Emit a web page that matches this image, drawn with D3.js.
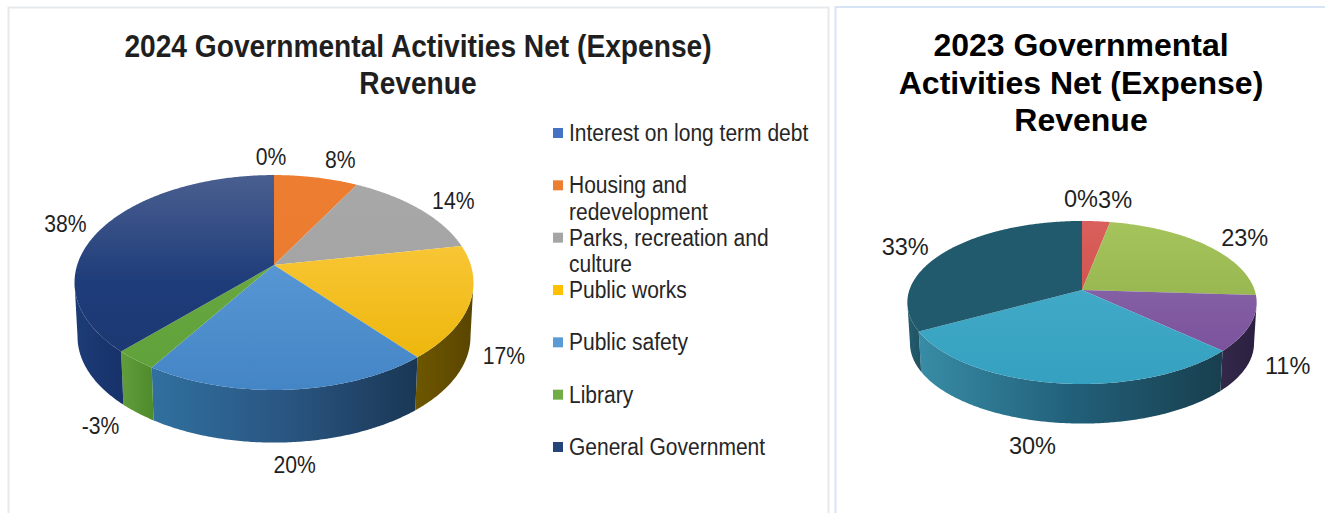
<!DOCTYPE html>
<html>
<head>
<meta charset="utf-8">
<script src="https://cdn.jsdelivr.net/npm/d3@7/dist/d3.min.js"></script>
<style>
  html, body { margin: 0; padding: 0; background: #fff; }
  svg { display: block; font-family: "Liberation Sans", Arial, sans-serif; }
</style>
</head>
<body>
<svg id="chart" width="1325" height="513"></svg>
<script>
// Shares of governmental activities net (expense) revenue, in percent.
const categories2024 = ["Interest on long term debt", "Housing and redevelopment", "Parks, recreation and culture", "Public works", "Public safety", "Library", "General Government"];
const values2024 = [0, 8, 14, 17, 20, -3, 38];
const categories2023 = ["Interest on long term debt", "Housing and redevelopment", "Parks, recreation and culture", "Public works", "Public safety", "General Government"];
const values2023 = [0, 3, 23, 11, 30, 33];

const title2024 = ["2024 Governmental Activities Net (Expense)", "Revenue"];
const title2023 = ["2023 Governmental", "Activities Net (Expense)", "Revenue"];
const legendLines = [["Interest on long term debt"], ["Housing and", "redevelopment"], ["Parks, recreation and", "culture"], ["Public works"], ["Public safety"], ["Library"], ["General Government"]];

// Top-face colour ramps (top of the disc to bottom) and wall ramps (left to right).
const swatches2024 = ["#4472c4", "#ed7d31", "#a5a5a5", "#ffc000", "#5b9bd5", "#70ad47", "#264478"];
const faces2024 = [["#4472c4", "#4472c4"], ["#ed7d31", "#ea7a2e"], ["#a8a8a8", "#a0a0a0"], ["#ffcf4f", "#eab300"], ["#64a3dd", "#4485c6"], ["#70ad47", "#5ea039"], ["#4a5f90", "#1e3c7a", "#1b376f"]];
const walls2024 = [["#1a3468", "#1a3468"], ["#c05f20", "#c05f20"], ["#7a7a7a", "#7a7a7a"], ["#6e5700", "#5a4500"], ["#30709f", "#2a5682", "#1a3755"], ["#619e3b", "#4f8a2b"], ["#1d3c76", "#17316a"]];
const faces2023 = [["#7c9ccc", "#7c9ccc"], ["#d9605c", "#c9453f"], ["#a6c45c", "#8aa943"], ["#8c70ab", "#784a9a"], ["#49b0cc", "#35a0c0"], ["#215a6c", "#215a6c"]];
const walls2023 = [["#215a6c", "#215a6c"], ["#8c2f2b", "#8c2f2b"], ["#5f7a25", "#5f7a25"], ["#332849", "#2b2040"], ["#388ca5", "#22607a", "#183f4e"], ["#245e70", "#1f5162"]];

// Data label nudges away from the rim point at each slice's mid angle.
const nudges2024 = [[-3, -18], [24, -18], [34, -8], [34, 53], [6, 75], [-35, 66], [-36, -5]];
const nudges2023 = [[-1, -22], [19, -22], [38, -8], [37, 42], [-24, 62], [-39, -6]];

const svg = d3.select("#chart");
const defs = svg.append("defs");
const line = d3.line();
const pie = d3.pie().sort(null).value(d => Math.abs(d)).startAngle(0).endAngle(2 * Math.PI);

// Narrows a text's glyphs horizontally by the given factor.
function squeeze(sel, factor) {
  const len = sel.node().getComputedTextLength();
  sel.attr("textLength", len * factor).attr("lengthAdjust", "spacingAndGlyphs");
  return sel;
}

// Panel outlines behind each chart.
const frame = d3.line();
svg.append("path").attr("d", frame([[8.5, 513], [8.5, 7.5], [828.5, 7.5], [828.5, 513]]))
  .attr("fill", "none").attr("stroke", "#e6e9ec").attr("stroke-width", 2);
svg.append("path").attr("d", frame([[835.5, 513], [835.5, 7], [1325, 7]]))
  .attr("fill", "none").attr("stroke", "#d6e4f6").attr("stroke-width", 2);

function ramp(id, stops, x1, y1, x2, y2) {
  const offset = d3.scaleLinear().domain([0, stops.length - 1]).range([0, 1]);
  const g = defs.append("linearGradient").attr("id", id)
    .attr("gradientUnits", "userSpaceOnUse")
    .attr("x1", x1).attr("y1", y1).attr("x2", x2).attr("y2", y2);
  stops.forEach((c, i) => g.append("stop").attr("offset", offset(i)).attr("stop-color", c));
  return `url(#${id})`;
}

function drawPie(o) {
  // Perspective disc: k makes the near edge larger than the far edge.
  const project = (a, scale = 1, drop = 0) => {
    const u = Math.sin(a), v = -Math.cos(a), w = 1 - o.k * v;
    return [o.cx + o.rx * scale * u / w, o.cy + drop + o.ry * scale * v / w];
  };
  const arcPoints = (a0, a1, scale, drop) => {
    const n = Math.max(1, Math.ceil(Math.abs(a1 - a0) / 0.01));
    return d3.range(n + 1).map(i => project(a0 + (a1 - a0) * i / n, scale, drop));
  };
  const arcs = pie(o.values);
  const wallFrom = Math.acos(-o.k), wallTo = 2 * Math.PI - wallFrom;
  const top = o.cy - o.ry / (1 + o.k), bottom = o.cy + o.ry / (1 - o.k);

  // Outer wall of each slice, only where it faces the viewer.
  arcs.forEach((d, i) => {
    const a0 = Math.max(d.startAngle, wallFrom), a1 = Math.min(d.endAngle, wallTo);
    if (a1 <= a0) return;
    const upper = arcPoints(a0, a1, 1, 0);
    const lower = arcPoints(a1, a0, o.wallScale, o.depth);
    const xs = d3.extent(upper.concat(lower), p => p[0]);
    svg.append("path").attr("class", "wall")
      .attr("d", line(upper.concat(lower)) + "Z")
      .attr("fill", ramp(`${o.id}-wall-${i}`, o.walls[i], xs[0], 0, xs[1], 0));
  });

  // Top face of each slice.
  arcs.forEach((d, i) => {
    const pts = [[o.cx, o.cy]].concat(arcPoints(d.startAngle, d.endAngle, 1, 0));
    const fill = ramp(`${o.id}-face-${i}`, o.faces[i], 0, top, 0, bottom);
    const path = svg.append("path").attr("class", "face").attr("d", line(pts) + "Z").attr("fill", fill);
    if (d.endAngle === d.startAngle) path.attr("stroke", o.faces[i][0]).attr("stroke-width", 1);
  });

  // Value labels.
  arcs.forEach((d, i) => {
    const p = project((d.startAngle + d.endAngle) / 2);
    const label = svg.append("text").attr("class", "label")
      .attr("x", p[0] + o.nudges[i][0]).attr("y", p[1] + o.nudges[i][1])
      .attr("text-anchor", "middle").attr("dominant-baseline", "central")
      .attr("font-size", o.labelSize).attr("fill", "#1f1f1f")
      .text(o.values[i] + "%");
    squeeze(label, o.labelSqueeze);
  });
}

drawPie({ id: "y24", values: values2024, faces: faces2024, walls: walls2024, nudges: nudges2024,
  cx: 274, cy: 265, rx: 196.8, ry: 104.6, k: 0.163, depth: 54.5, wallScale: 0.985, labelSize: 23, labelSqueeze: 0.92 });
drawPie({ id: "y23", values: values2023, faces: faces2023, walls: walls2023, nudges: nudges2023,
  cx: 1082, cy: 290, rx: 172.6, ry: 79.6, k: 0.153, depth: 41, wallScale: 0.985, labelSize: 24, labelSqueeze: 0.98 });

// Chart titles.
const titleLeft = d3.scalePoint().domain(d3.range(title2024.length)).range([57, 94]);
title2024.forEach((t, i) => squeeze(svg.append("text").attr("x", 418).attr("y", titleLeft(i))
  .attr("text-anchor", "middle").attr("font-weight", "bold").attr("font-size", 31).attr("fill", "#1f1f1f").text(t), 0.908));
const titleRight = d3.scalePoint().domain(d3.range(title2023.length)).range([56, 131]);
title2023.forEach((t, i) => svg.append("text").attr("x", 1081).attr("y", titleRight(i))
  .attr("text-anchor", "middle").attr("font-weight", "bold").attr("font-size", 32).attr("fill", "#000").text(t));

// Legend for the 2024 chart.
const legendY = d3.scalePoint().domain(categories2024).range([133, 447]);
categories2024.forEach((c, i) => {
  const y = legendY(c);
  svg.append("rect").attr("x", 553).attr("y", y - 5).attr("width", 10).attr("height", 10).attr("fill", swatches2024[i]);
  legendLines[i].forEach((t, j) => squeeze(svg.append("text").attr("x", 569).attr("y", y + j * 26.5)
    .attr("dominant-baseline", "central").attr("font-size", 23).attr("fill", "#262626").text(t), 0.913));
});
</script>
</body>
</html>
